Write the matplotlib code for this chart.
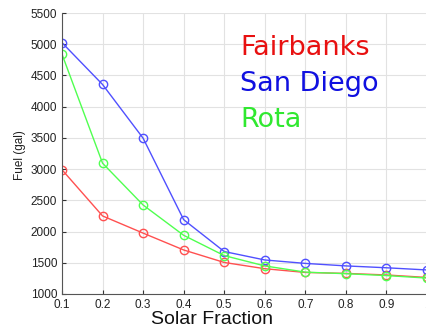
import matplotlib.pyplot as plt

# solar fraction vs. annual fuel use for three sites
solar_fraction = [0.1, 0.2, 0.3, 0.4, 0.5, 0.6, 0.7, 0.8, 0.9, 1.0]
fairbanks = [2990, 2250, 1975, 1705, 1505, 1405, 1345, 1330, 1305, 1265]
san_diego = [5025, 4355, 3495, 2190, 1680, 1545, 1490, 1450, 1420, 1385]
rota = [4840, 3095, 2425, 1940, 1615, 1450, 1350, 1325, 1295, 1255]

site_names = ["Fairbanks", "San Diego", "Rota"]
text_colors = ["#e81010", "#1010e0", "#30e830"]
line_colors = ["#ff5050", "#5050ff", "#50ff50"]

plt.rcParams['font.family'] = ['Liberation Sans', 'DejaVu Sans']

fig = plt.figure(figsize=(4.27, 3.30), dpi=100)
ax = fig.add_axes([62 / 427, 1 - 294 / 330, 365 / 427, 281 / 330])

ax.plot(solar_fraction, fairbanks, '-o', color=line_colors[0], lw=1,
        ms=6, mfc='none', mew=1)
ax.plot(solar_fraction, san_diego, '-o', color=line_colors[1], lw=1,
        ms=6, mfc='none', mew=1)
ax.plot(solar_fraction, rota, '-o', color=line_colors[2], lw=1,
        ms=6, mfc='none', mew=1)

ax.set_xlim(0.1, 1.0)
ax.set_ylim(1000, 5500)
ax.set_xticks(solar_fraction)
ax.set_xticklabels(["0.1", "0.2", "0.3", "0.4", "0.5", "0.6", "0.7", "0.8", "0.9", "1"])
ax.set_yticks(range(1000, 5501, 500))
ax.tick_params(direction='in', length=3, labelsize=8.5, colors='#333333',
               labelcolor='#222222')
ax.grid(True, color='#e2e2e2', lw=0.8)
ax.set_axisbelow(True)
for side in ['top', 'right']:
    ax.spines[side].set_visible(False)
for side in ['left', 'bottom']:
    ax.spines[side].set_color('#555555')
    ax.spines[side].set_linewidth(0.8)

# axis titles placed in figure pixels
fig.text(20 / 427, 1 - 155 / 330, "Fuel (gal)", fontsize=8.5, rotation=90,
         ha='center', va='center', color='#222222')
fig.text(212 / 427, 1 - 320 / 330, "Solar Fraction", fontsize=14,
         ha='center', va='center', color='#111111')

for i, name in enumerate(site_names):
    fig.text(240 / 427, 1 - (55 + 36 * i) / 330, name, fontsize=19.5,
             color=text_colors[i], family='DejaVu Sans', va='baseline')

fig.savefig("out.png", dpi=100)
